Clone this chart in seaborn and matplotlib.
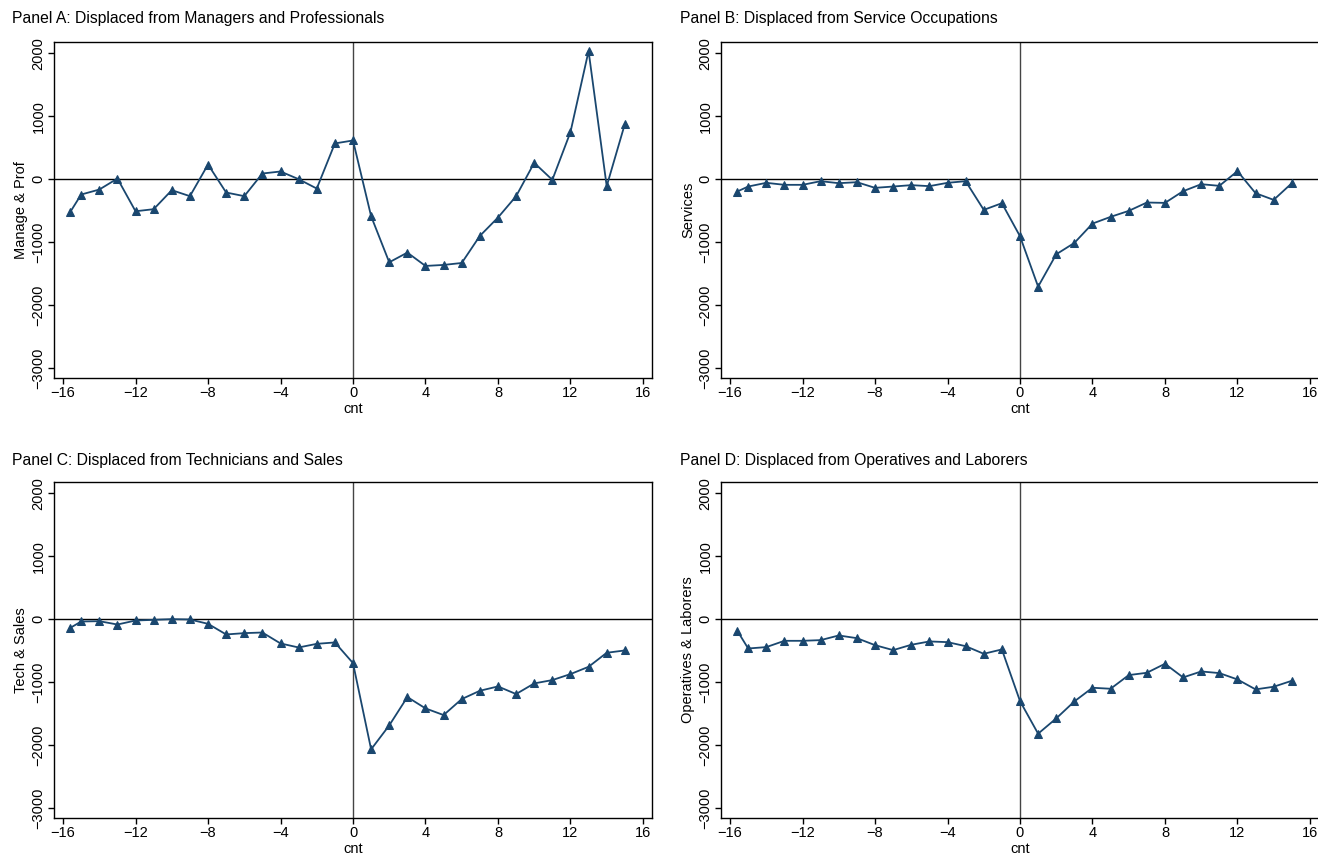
import numpy as np
import pandas as pd
import matplotlib
matplotlib.use("Agg")
import matplotlib.pyplot as plt
import seaborn as sns

sns.set_theme(style="white")
plt.rcParams['font.family'] = ['Liberation Sans', 'DejaVu Sans']
plt.rcParams['text.color'] = 'black'
plt.rcParams['axes.labelcolor'] = 'black'

# event time (cnt)
cnt = [-15.6, -15, -14, -13, -12, -11, -10, -9, -8, -7, -6, -5, -4, -3, -2, -1,
       0, 1, 2, 3, 4, 5, 6, 7, 8, 9, 10, 11, 12, 13, 14, 15]

manage_prof = [-520, -244, -165, 10, -510, -477, -175, -270, 233, -212, -270, 90,
               122, 0, -149, 568, 615, -589, -1321, -1167, -1379, -1363, -1332,
               -902, -610, -271, 260, -11, 748, 2037, -111, 875]

services = [-196, -117, -58, -90, -90, -32, -64, -48, -138, -117, -95, -111,
            -58, -32, -488, -382, -907, -1708, -1194, -1013, -706, -599, -504,
            -371, -377, -191, -80, -106, 127, -223, -329, -64]

tech_sales = [-138, -37, -32, -85, -21, -11, 0, -5, -74, -243, -222, -212,
              -386, -450, -392, -370, -698, -2069, -1688, -1238, -1418, -1524,
              -1270, -1138, -1069, -1190, -1021, -968, -873, -757, -534, -497]

operatives = [-185, -466, -444, -344, -344, -333, -259, -302, -413, -492, -407,
              -354, -365, -429, -550, -481, -1302, -1820, -1577, -1307, -1090,
              -1106, -889, -852, -709, -926, -831, -857, -958, -1116, -1074, -979]

titles = ["Panel A: Displaced from Managers and Professionals",
          "Panel B: Displaced from Service Occupations",
          "Panel C: Displaced from Technicians and Sales",
          "Panel D: Displaced from Operatives and Laborers"]
ylabels = ["Manage & Prof", "Services", "Tech & Sales", "Operatives & Laborers"]
series = [manage_prof, services, tech_sales, operatives]

W, H = 1318, 858
fig = plt.figure(figsize=(W / 100, H / 100), dpi=100)

# axes boxes in pixels: (left, top)
boxes = [(54, 42), (721, 42), (54, 482), (721, 482)]
aw, ah = 598, 336
title_pos = [(12, 18), (680, 18), (12, 460), (680, 460)]

navy = "#1a476f"

for i in range(4):
    left, top = boxes[i]
    ax = fig.add_axes([left / W, (H - top - ah) / H, aw / W, ah / H])
    df = pd.DataFrame({"cnt": cnt, "val": series[i]})
    ax.axhline(0, color="black", lw=1.0, zorder=1)
    ax.axvline(0, color="#444444", lw=1.0, zorder=1)
    sns.lineplot(data=df, x="cnt", y="val", ax=ax, color=navy, lw=1.3,
                 marker="^", markersize=5.5, markeredgecolor=navy, zorder=3)
    ax.set_xlim(-16.5, 16.5)
    ax.set_ylim(-3160, 2180)
    ax.set_xticks(np.arange(-16, 17, 4))
    ax.set_yticks(np.arange(-3000, 2001, 1000))
    ax.tick_params(axis="both", direction="out", length=4.5, width=1.0,
                   color="black", labelsize=10.5, labelcolor="black", pad=1.5,
                   bottom=True, left=True)
    for lab in ax.get_yticklabels():
        lab.set_rotation(90)
        lab.set_va("center")
    for sp in ax.spines.values():
        sp.set_color("black")
        sp.set_linewidth(1.0)
    ax.set_xlabel("cnt", fontsize=10.5, va="center")
    ax.xaxis.set_label_coords(0.5, -31 / ah)
    ax.set_ylabel(ylabels[i], fontsize=10.5, va="center")
    ax.yaxis.set_label_coords(-33 / aw, 0.5)
    tx, ty = title_pos[i]
    fig.text(tx / W, 1 - ty / H, titles[i], fontsize=11.3, ha="left", va="center")

fig.savefig("out.png", dpi=100, facecolor="white")
